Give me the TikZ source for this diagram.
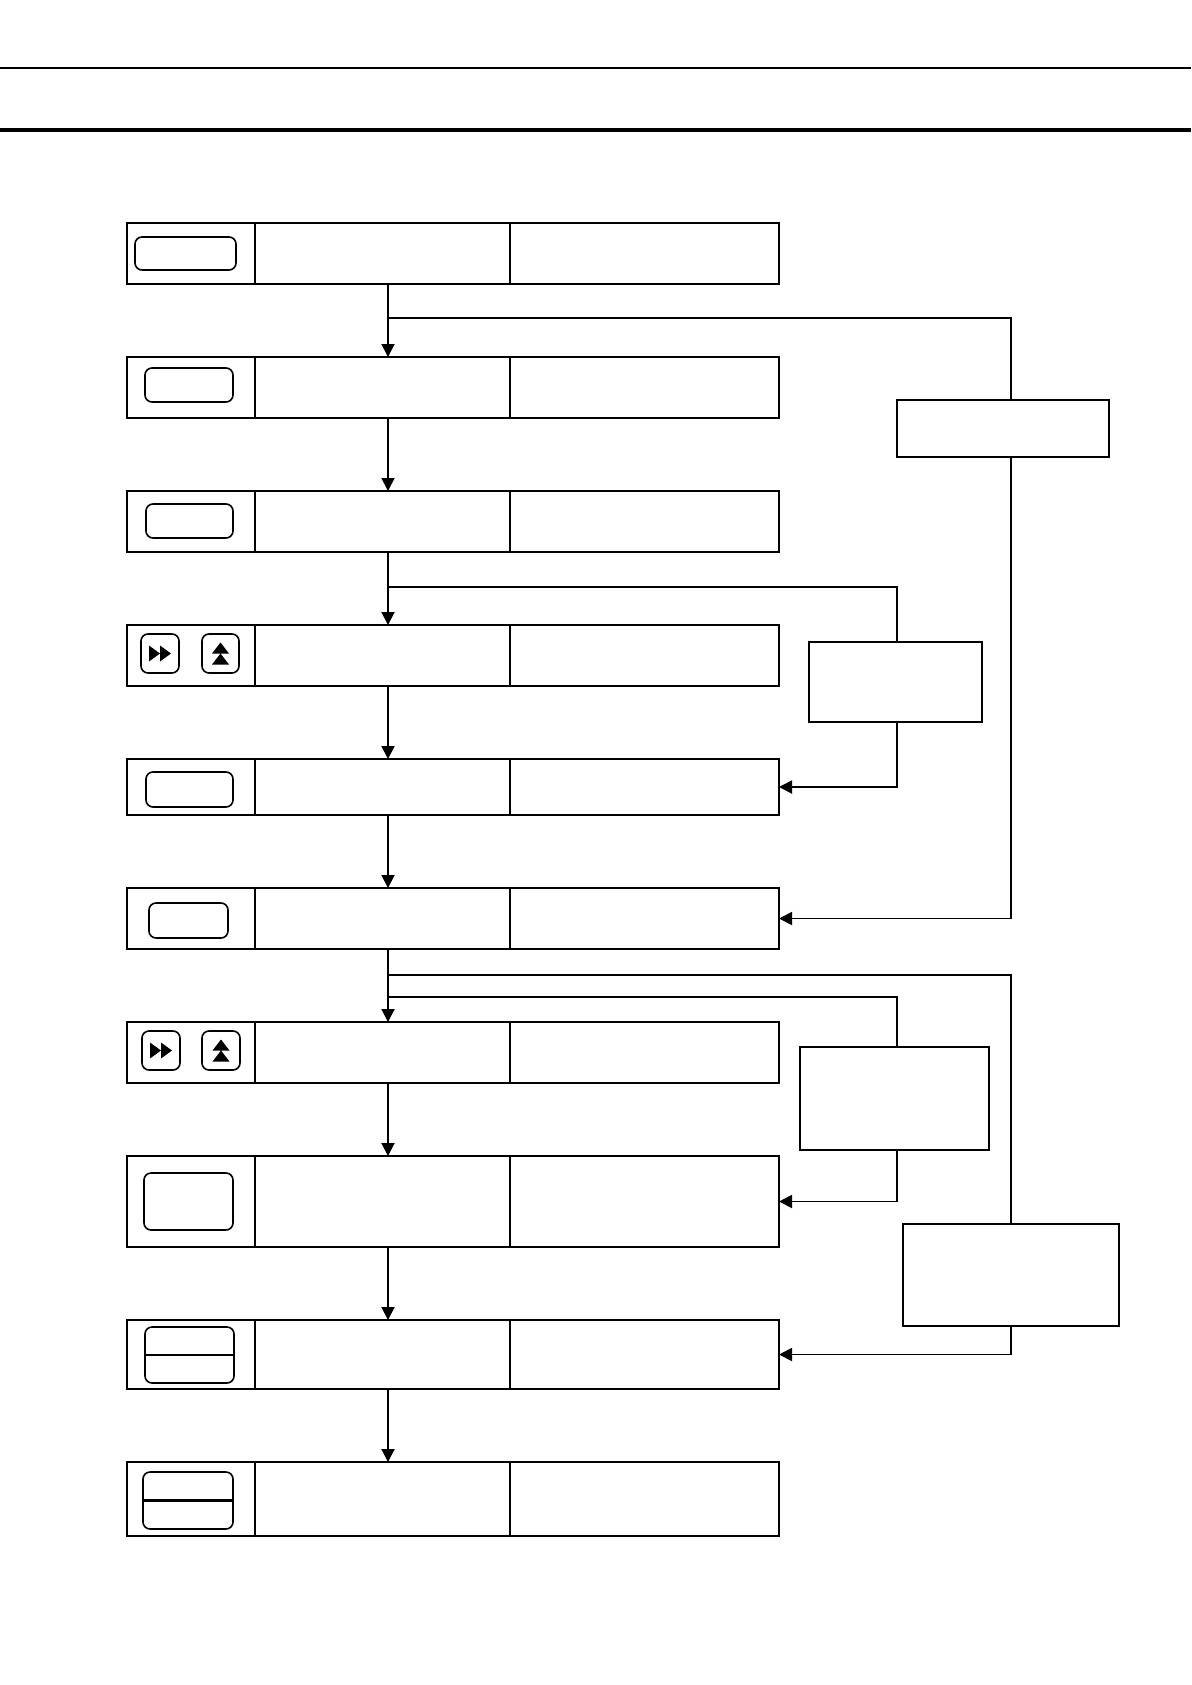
\documentclass[tikz,border=0pt]{standalone}
\usepackage{tikz}
\usetikzlibrary{arrows.meta}

\tikzset{
    rowbox/.style={draw, line width=1.6pt, inner sep=0pt, outer sep=0pt, minimum width=652pt},
    keybox/.style={draw, line width=1.6pt, rounded corners=7pt, inner sep=0pt, outer sep=0pt},
    sidebox/.style={draw, line width=2.2pt, inner sep=0pt, outer sep=0pt},
    flow/.style={line width=1.9pt, -{Triangle[width=13pt,length=13pt]}},
    link/.style={line width=1.9pt}
}

\begin{document}
\begin{tikzpicture}[x=1pt, y=-1pt]
    \useasboundingbox (0,0) rectangle (1191,1685);

    % header rules
    \draw[line width=1.2pt] (0,68) -- (1191,68);
    \draw[line width=4pt] (0,130) -- (1191,130);

    % column and connector positions
    \coordinate (d1) at (255,0);
    \coordinate (d2) at (510,0);
    \coordinate (ax) at (388,0);
    \coordinate (rA) at (1011,0);
    \coordinate (rB) at (897,0);

    % rows
    \node[rowbox, minimum height=61pt] (r1) at (453,253.5) {};
    \node[rowbox, minimum height=61pt] (r2) at (453,387.5) {};
    \node[rowbox, minimum height=61pt] (r3) at (453,521.5) {};
    \node[rowbox, minimum height=61pt] (r4) at (453,655.5) {};
    \node[rowbox, minimum height=56pt] (r5) at (453,787) {};
    \node[rowbox, minimum height=61pt] (r6) at (453,918.5) {};
    \node[rowbox, minimum height=61pt] (r7) at (453,1052.5) {};
    \node[rowbox, minimum height=91pt] (r8) at (453,1201.5) {};
    \node[rowbox, minimum height=69pt] (r9) at (453,1354.5) {};
    \node[rowbox, minimum height=74pt] (r10) at (453,1499) {};

    \foreach \r in {r1,r2,r3,r4,r5,r6,r7,r8,r9,r10} {
        \draw[line width=1.6pt] (\r.north -| d1) -- (\r.south -| d1);
        \draw[line width=1.6pt] (\r.north -| d2) -- (\r.south -| d2);
    }

    % keys
    \node[keybox, minimum width=101pt, minimum height=33pt] (k1) at (185.5,253.5) {};
    \node[keybox, minimum width=88pt, minimum height=34pt] (k2) at (189,385) {};
    \node[keybox, minimum width=87pt, minimum height=34pt] (k3) at (189.5,521) {};
    \node[keybox, minimum width=38pt, minimum height=39pt] (k4a) at (160,653.5) {};
    \node[keybox, minimum width=37pt, minimum height=39pt] (k4b) at (220.5,653.5) {};
    \node[keybox, minimum width=87pt, minimum height=35pt] (k5) at (189.5,789.5) {};
    \node[keybox, minimum width=79pt, minimum height=35pt] (k6) at (188.5,920.5) {};
    \node[keybox, minimum width=38pt, minimum height=39pt] (k7a) at (161,1050.5) {};
    \node[keybox, minimum width=38pt, minimum height=39pt] (k7b) at (221,1050.5) {};
    \node[keybox, minimum width=89pt, minimum height=57pt] (k8) at (188.5,1201.5) {};
    \node[keybox, minimum width=89pt, minimum height=56pt] (k9) at (189.5,1355) {};
    \node[keybox, minimum width=90pt, minimum height=57pt] (k10) at (188,1500.5) {};

    \draw[line width=1.4pt] (k9.west) -- (k9.east);
    \draw[line width=2.2pt] (k10.west) -- (k10.east);

    \fill[shift={(k4a)}] (-11,-8) -- (-11,8) -- (0,0) -- cycle (0,-8) -- (0,8) -- (11,0) -- cycle;
    \fill[shift={(k4b)}] (0,-11) -- (-8.5,0) -- (8.5,0) -- cycle (0,0) -- (-8.5,11) -- (8.5,11) -- cycle;
    \fill[shift={(k7a)}] (-11,-8) -- (-11,8) -- (0,0) -- cycle (0,-8) -- (0,8) -- (11,0) -- cycle;
    \fill[shift={(k7b)}] (0,-11) -- (-8.5,0) -- (8.5,0) -- cycle (0,0) -- (-8.5,11) -- (8.5,11) -- cycle;

    % side boxes
    \node[sidebox, minimum width=212pt, minimum height=57pt] (sA) at (1003,428.5) {};
    \node[sidebox, minimum width=173pt, minimum height=80pt] (sB) at (895.5,682) {};
    \node[sidebox, minimum width=189pt, minimum height=103pt] (sC) at (894.5,1098.5) {};
    \node[sidebox, minimum width=216pt, minimum height=102pt] (sD) at (1011,1275) {};

    % main flow
    \draw[flow] (r1.south -| ax) -- (r2.north -| ax);
    \draw[flow] (r2.south -| ax) -- (r3.north -| ax);
    \draw[flow] (r3.south -| ax) -- (r4.north -| ax);
    \draw[flow] (r4.south -| ax) -- (r5.north -| ax);
    \draw[flow] (r5.south -| ax) -- (r6.north -| ax);
    \draw[flow] (r6.south -| ax) -- (r7.north -| ax);
    \draw[flow] (r7.south -| ax) -- (r8.north -| ax);
    \draw[flow] (r8.south -| ax) -- (r9.north -| ax);
    \draw[flow] (r9.south -| ax) -- (r10.north -| ax);

    % branches
    \coordinate (b1) at (388,318);
    \coordinate (b2) at (388,587);
    \coordinate (b3) at (388,975);
    \coordinate (b4) at (388,997);

    \draw[link] (b1) -| (rA |- sA.north);
    \draw[flow] (rA |- sA.south) |- (r6.east);

    \draw[link] (b2) -| (rB |- sB.north);
    \draw[flow] (rB |- sB.south) |- (r5.east);

    \draw[link] (b4) -| (rB |- sC.north);
    \draw[flow] (rB |- sC.south) |- (r8.east);

    \draw[link] (b3) -| (sD.north);
    \draw[flow] (sD.south) |- (r9.east);
\end{tikzpicture}
\end{document}
